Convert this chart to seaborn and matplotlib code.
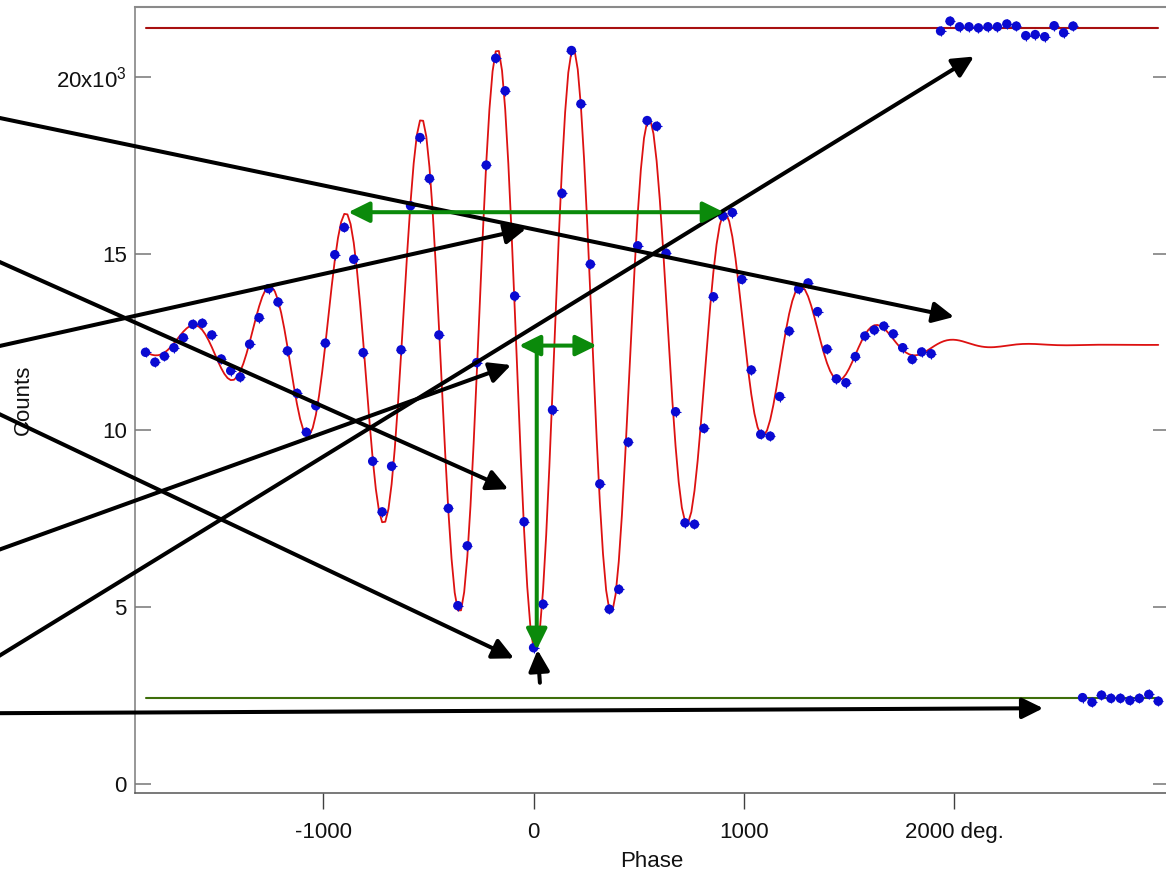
import numpy as np
import pandas as pd
import matplotlib
matplotlib.use("Agg")
import matplotlib.pyplot as plt
import seaborn as sns

# ---- measured fringe scan (phase in degrees, counts in thousands) ----
phase_deg = [-1845, -1800, -1755, -1710, -1665, -1620, -1575, -1530, -1485, -1440,
             -1395, -1350, -1305, -1260, -1215, -1170, -1125, -1080, -1035, -990,
             -945, -900, -855, -810, -765, -720, -675, -630, -585, -540,
             -495, -450, -405, -360, -315, -270, -225, -180, -135, -90,
             -45, 0, 45, 90, 135, 180, 225, 270, 315, 360,
             405, 450, 495, 540, 585, 630, 675, 720, 765, 810,
             855, 900, 945, 990, 1035, 1080, 1125, 1170, 1215, 1260,
             1305, 1350, 1395, 1440, 1485, 1530, 1575, 1620, 1665, 1710,
             1755, 1800, 1845, 1890]
counts_k = [12.21, 11.93, 12.10, 12.34, 12.62, 13.00, 13.03, 12.70, 12.02, 11.69,
            11.51, 12.44, 13.19, 14.01, 13.63, 12.25, 11.05, 9.95, 10.70, 12.47,
            14.97, 15.74, 14.84, 12.20, 9.13, 7.70, 8.99, 12.28, 16.35, 18.28,
            17.12, 12.70, 7.80, 5.05, 6.74, 11.92, 17.50, 20.52, 19.60, 13.80,
            7.42, 3.86, 5.09, 10.58, 16.70, 20.74, 19.23, 14.70, 8.49, 4.95,
            5.51, 9.67, 15.22, 18.76, 18.60, 15.01, 10.53, 7.39, 7.35, 10.06,
            13.78, 16.06, 16.16, 14.27, 11.71, 9.89, 9.84, 10.96, 12.81, 14.00,
            14.17, 13.36, 12.30, 11.46, 11.35, 12.09, 12.67, 12.84, 12.95, 12.73,
            12.34, 12.01, 12.22, 12.17]

# open-beam (maximum) and blocked-beam (minimum) reference runs
max_phase = [1935, 1980, 2025, 2070, 2115, 2160, 2205, 2250, 2295, 2340,
             2385, 2430, 2475, 2520, 2565]
max_counts_k = [21.29, 21.57, 21.41, 21.41, 21.38, 21.41, 21.41, 21.49, 21.43, 21.16,
                21.19, 21.13, 21.44, 21.24, 21.43]
min_phase = [2610, 2655, 2700, 2745, 2790, 2835, 2880, 2925, 2970]
min_counts_k = [2.45, 2.32, 2.52, 2.43, 2.43, 2.37, 2.43, 2.54, 2.35]

level_span = [-1845, 2970]
level_max_k = 21.38
level_min_k = 2.45

# Gaussian-envelope fringe fit: offset, amplitude, centre, 1/e width, period
fit_offset_k = 12.42
fit_amp_k = 8.66
fit_center = 8.0
fit_width = 985.0
fit_period = 363.0

# ---- annotation arrows (tail -> head, data coordinates) ----
black_tails = [(-2560, 18.86), (-2560, 14.82), (-2560, 12.36), (-2560, 10.52),
               (-2560, 6.59), (-2560, 3.56), (-2560, 2.01), (30, 2.87)]
black_heads = [(1999, 13.21), (-120, 8.34), (-36, 15.70), (-93, 3.56),
               (-107, 11.85), (2094, 20.57), (2423, 2.15), (19, 3.80)]

green_double = [((-881, 16.17), (905, 16.17)), ((-69, 12.40), (300, 12.40))]
green_single = [((15, 12.37), (15, 3.80))]

x_ticks = [-1000, 0, 1000, 2000]
x_tick_labels = ["-1000", "0", "1000", "2000 deg."]
y_ticks = [0, 5, 10, 15, 20]
y_tick_labels = ["0", "5", "10", "15", r"20x10$^{\mathregular{3}}$"]

# ---- style ----
sns.set_theme(style="ticks")
plt.rcParams["font.family"] = ["Liberation Sans", "DejaVu Sans"]
plt.rcParams["mathtext.fontset"] = "custom"
plt.rcParams["mathtext.rm"] = "Liberation Sans"
plt.rcParams["mathtext.it"] = "Liberation Sans:italic"

W, H = 1166, 874
fig = plt.figure(figsize=(W / 100, H / 100), dpi=100)
ax = fig.add_axes([135 / W, 80.7 / H, (1169 - 135) / W, (867.3 - 80.7) / H])

scan = pd.DataFrame({"phase": phase_deg, "counts": counts_k})
fit_phase = np.arange(level_span[0], level_span[1] + 1, 15.0)
dx = fit_phase - fit_center
fit_counts = fit_offset_k - fit_amp_k * np.exp(-(dx / fit_width) ** 2) * np.cos(2 * np.pi * dx / fit_period)
fit = pd.DataFrame({"phase": fit_phase, "counts": fit_counts})

# reference levels
sns.lineplot(x=level_span, y=[level_max_k] * 2, color="#A81010", lw=1.5, ax=ax, zorder=2)
sns.lineplot(x=level_span, y=[level_min_k] * 2, color="#3E6E0A", lw=1.5, ax=ax, zorder=2)

# fit curve
sns.lineplot(data=fit, x="phase", y="counts", estimator=None, sort=False,
             color="#DD1111", lw=1.3, ax=ax, zorder=3)

# data points: filled circle with a small cross
blue = "#0A0AD2"
for xs, ys in [(phase_deg, counts_k), (max_phase, max_counts_k), (min_phase, min_counts_k)]:
    sns.scatterplot(x=xs, y=ys, color=blue, marker="o", s=46, edgecolor="none", ax=ax, zorder=4)
    sns.scatterplot(x=xs, y=ys, color=blue, marker="+", s=55, linewidth=0.8, ax=ax, zorder=4)

# arrows
head = "head_length=0.85,head_width=0.42"
for tail, tip in zip(black_tails, black_heads):
    ax.annotate("", xy=tip, xytext=tail, annotation_clip=False,
                arrowprops=dict(arrowstyle="-|>," + head, color="black", lw=2.9,
                                mutation_scale=15, shrinkA=0, shrinkB=0), zorder=6)

green = "#0B8A0B"
for a, b in green_double:
    ax.annotate("", xy=b, xytext=a, annotation_clip=False,
                arrowprops=dict(arrowstyle="<|-|>," + head, color=green, lw=2.9,
                                mutation_scale=15, shrinkA=0, shrinkB=0), zorder=7)
for a, b in green_single:
    ax.annotate("", xy=b, xytext=a, annotation_clip=False,
                arrowprops=dict(arrowstyle="-|>," + head, color=green, lw=2.9,
                                mutation_scale=15, shrinkA=0, shrinkB=0), zorder=7)

# axes
ax.set_xlim(-1895, 3021)
ax.set_ylim(-0.254, 21.978)
ax.set_xticks(x_ticks)
ax.set_xticklabels(x_tick_labels)
ax.set_yticks(y_ticks)
ax.set_yticklabels(y_tick_labels)
ax.tick_params(axis="x", direction="out", length=11.5, width=1.0, color="#404040",
               labelsize=16, pad=9, labelcolor="#111111")
ax.tick_params(axis="y", direction="in", length=11.5, width=1.2, color="#808080",
               left=True, right=True, labelsize=16, pad=6, labelcolor="#111111")
ax.set_xlabel("Phase", fontsize=16, color="#111111", labelpad=6)
ax.set_ylabel("Counts", fontsize=16, color="#111111")
ax.yaxis.set_label_coords(-0.098, 0.5)

for side in ["left", "top", "bottom", "right"]:
    ax.spines[side].set_visible(True)
ax.spines["left"].set_color("#7A7A7A")
ax.spines["left"].set_linewidth(1.1)
ax.spines["top"].set_color("#8A8A8A")
ax.spines["top"].set_linewidth(1.5)
ax.spines["bottom"].set_color("#555555")
ax.spines["bottom"].set_linewidth(1.1)
ax.spines["right"].set_color("#7A7A7A")
ax.spines["right"].set_linewidth(1.1)
ax.set_facecolor("white")
fig.patch.set_facecolor("white")

fig.savefig("out.png", dpi=100, facecolor="white")
